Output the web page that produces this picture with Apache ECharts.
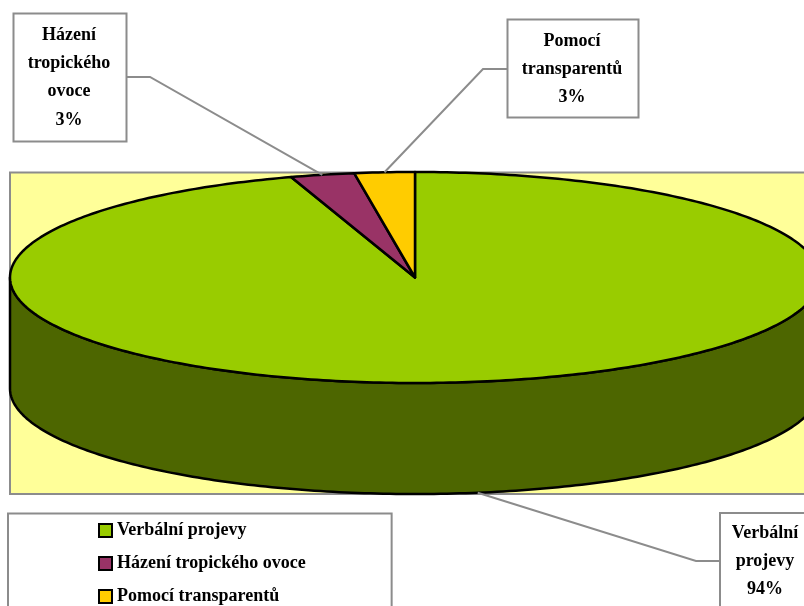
<!DOCTYPE html>
<html>
<head>
<meta charset="utf-8">
<style>
  html, body { margin: 0; padding: 0; background: #fff; }
  #main { width: 804px; height: 606px; }
</style>
</head>
<body>
<div id="main"></div>
<script src="https://cdn.jsdelivr.net/npm/echarts@6/dist/echarts.min.js"></script>
<script>
// kategorie
const categories = ['Verbální projevy', 'Házení tropického ovoce', 'Pomocí transparentů']
// popisky v grafu
const percentLabels = [94, 3, 3]
// velikost výsečí (v %)
const sliceShares = [95.05, 2.55, 2.4]
const sliceColors = ['#99cc00', '#993366', '#ffcc00']
const labelLines = [['Verbální', 'projevy'], ['Házení', 'tropického', 'ovoce'], ['Pomocí', 'transparentů']]

// rozložení
const pie = { cx: 415, cy: 277.5, rx: 405, ry: 105.5, depth: 111 }
const plot = { x: 10, y: 172.5, width: 830, height: 321.5 }
const boxes = [
  { x: 720, y: 513, width: 120, height: 120, knee: [696, 561], textX: 765, textY: 533 },
  { x: 13.5, y: 13.5, width: 113, height: 128, knee: [150, 77], textX: 69, textY: 35 },
  { x: 507.5, y: 19.5, width: 131, height: 98, knee: [483, 69], textX: 572, textY: 41 }
]
const font = 'bold 18px "Liberation Serif"'
const greyLine = '#8c8c8c'

const pointAt = (share, drop = 0) => {
  const t = share / 100 * Math.PI * 2
  return [pie.cx + pie.rx * Math.sin(t), pie.cy - pie.ry * Math.cos(t) + drop]
}

// body na obvodu elipsy mezi dvěma podíly
const arcPoints = (from, to, drop = 0) => {
  const pts = []
  const steps = Math.max(4, Math.ceil((to - from) * 4))
  for (let i = 0; i <= steps; i++) {
    pts.push(pointAt(from + (to - from) * i / steps, drop))
  }
  return pts
}

const blackEdge = { stroke: '#000', lineWidth: 2.5, lineJoin: 'round' }

const renderSlice = (idx) => (params, api) => {
  const from = sliceShares.slice(0, idx).reduce((a, b) => a + b, 0)
  const to = from + api.value(0)
  const children = []

  // boční stěna jen pro přední polovinu
  const sideFrom = Math.max(from, 25)
  const sideTo = Math.min(to, 75)
  if (sideTo > sideFrom) {
    const top = arcPoints(sideFrom, sideTo)
    const bottom = arcPoints(sideFrom, sideTo, pie.depth).reverse()
    children.push({
      type: 'polygon',
      shape: { points: top.concat(bottom) },
      style: { fill: '#4d6600', ...blackEdge }
    })
  }

  children.push({
    type: 'polygon',
    shape: { points: [[pie.cx, pie.cy]].concat(arcPoints(from, to)) },
    style: { fill: api.visual('color'), ...blackEdge }
  })

  // vodicí čára a rámeček s popiskem
  const box = boxes[idx]
  const mid = (from + to) / 2
  const inFront = mid > 25 && mid < 75
  const anchor = pointAt(mid, inFront ? pie.depth : 0)
  const boxEdgeX = box.knee[0] < box.x ? box.x : box.x + box.width
  children.push({
    type: 'polyline',
    z2: 10,
    shape: { points: [anchor, box.knee, [boxEdgeX, box.knee[1]]] },
    style: { fill: null, stroke: greyLine, lineWidth: 2 }
  })
  children.push({
    type: 'rect',
    z2: 11,
    shape: { x: box.x, y: box.y, width: box.width, height: box.height },
    style: { fill: '#fff', stroke: greyLine, lineWidth: 2 }
  })
  labelLines[idx].concat(percentLabels[idx] + '%').forEach((line, i) => {
    children.push({
      type: 'text',
      z2: 12,
      style: {
        text: line,
        x: box.textX,
        y: box.textY + i * 28.4,
        align: 'center',
        verticalAlign: 'middle',
        font: font,
        fill: '#000'
      }
    })
  })
  return { type: 'group', children }
}

const chart = echarts.init(document.getElementById('main'), null, { renderer: 'canvas' })
chart.setOption({
  animation: false,
  backgroundColor: '#fff',
  color: sliceColors,
  legend: {
    orient: 'vertical',
    left: 8,
    top: 513.5,
    height: 200,
    padding: [8, 86, 12, 90],
    backgroundColor: '#fff',
    borderColor: greyLine,
    borderWidth: 2,
    borderRadius: 0,
    icon: 'rect',
    itemWidth: 13,
    itemHeight: 13,
    itemGap: 15,
    itemStyle: { borderColor: '#000', borderWidth: 2 },
    textStyle: { fontFamily: 'Liberation Serif', fontWeight: 'bold', fontSize: 18, color: '#000' },
    data: categories
  },
  graphic: [{
    type: 'rect',
    z: -1,
    shape: plot,
    style: { fill: '#ffff99', stroke: greyLine, lineWidth: 2 }
  }],
  series: categories.map((name, idx) => ({
    type: 'custom',
    name: name,
    coordinateSystem: 'none',
    z: 2 + idx,
    clip: false,
    itemStyle: { color: sliceColors[idx] },
    data: [[sliceShares[idx]]],
    renderItem: renderSlice(idx)
  }))
})
</script>
</body>
</html>
